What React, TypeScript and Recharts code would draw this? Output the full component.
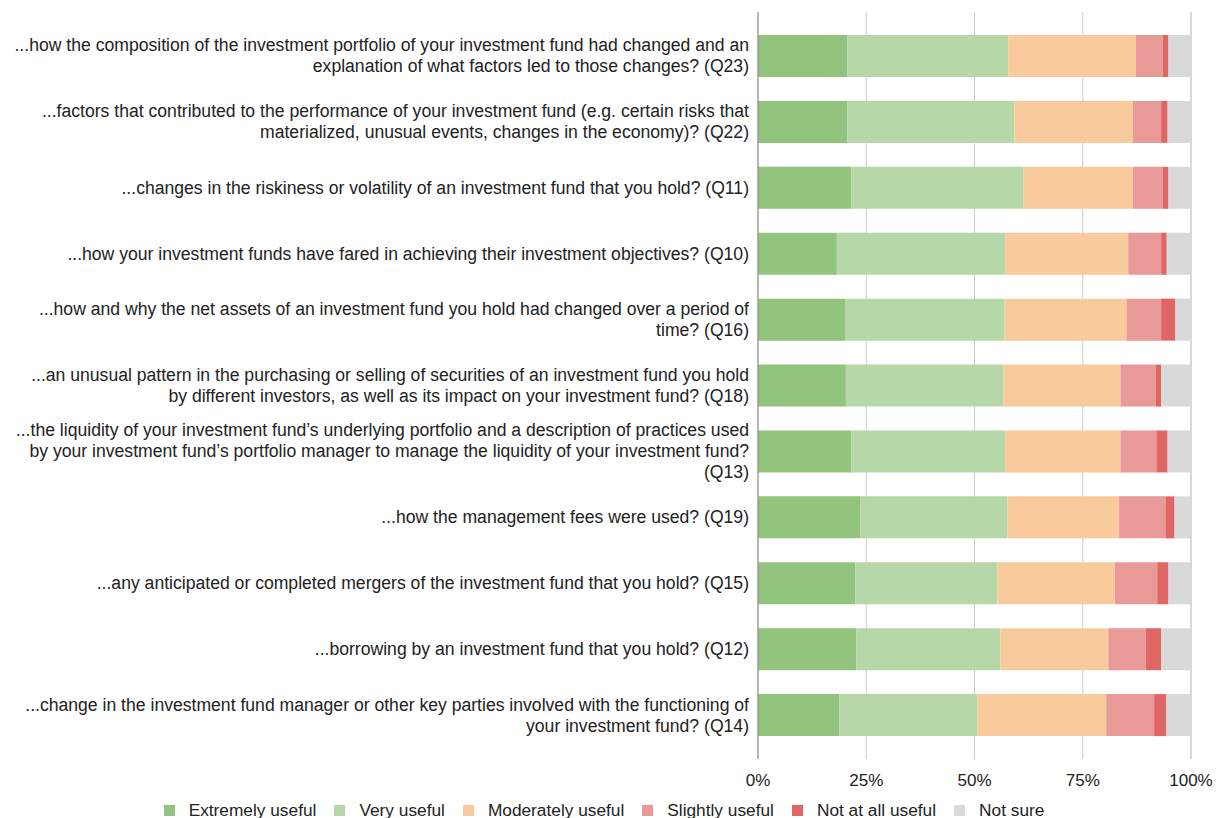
import { BarChart, Bar, XAxis, YAxis, CartesianGrid, Legend } from 'recharts'

const questions = [
  '...how the composition of the investment portfolio of your investment fund had changed and an\nexplanation of what factors led to those changes? (Q23)',
  '...factors that contributed to the performance of your investment fund (e.g. certain risks that\nmaterialized, unusual events, changes in the economy)? (Q22)',
  '...changes in the riskiness or volatility of an investment fund that you hold? (Q11)',
  '...how your investment funds have fared in achieving their investment objectives? (Q10)',
  '...how and why the net assets of an investment fund you hold had changed over a period of\ntime? (Q16)',
  '...an unusual pattern in the purchasing or selling of securities of an investment fund you hold\nby different investors, as well as its impact on your investment fund? (Q18)',
  '...the liquidity of your investment fund\u2019s underlying portfolio and a description of practices used\nby your investment fund\u2019s portfolio manager to manage the liquidity of your investment fund?\n(Q13)',
  '...how the management fees were used? (Q19)',
  '...any anticipated or completed mergers of the investment fund that you hold? (Q15)',
  '...borrowing by an investment fund that you hold? (Q12)',
  '...change in the investment fund manager or other key parties involved with the functioning of\nyour investment fund? (Q14)',
]

const extremelyUseful = [20.6, 20.6, 21.6, 18.2, 20.1, 20.3, 21.6, 23.7, 22.5, 22.7, 18.8]
const veryUseful = [37.2, 38.6, 39.7, 38.9, 36.8, 36.4, 35.5, 33.9, 32.8, 33.3, 31.9]
const moderatelyUseful = [29.5, 27.4, 25.3, 28.4, 28.2, 27.0, 26.6, 25.8, 27.1, 24.9, 29.7]
const slightlyUseful = [6.2, 6.5, 6.9, 7.6, 8.0, 8.1, 8.3, 10.7, 9.8, 8.6, 11.1]
const notAtAllUseful = [1.3, 1.5, 1.3, 1.3, 3.3, 1.3, 2.6, 2.1, 2.6, 3.6, 2.8]
const notSure = [5.2, 5.4, 5.2, 5.6, 3.6, 6.9, 5.4, 3.8, 5.2, 6.9, 5.7]

const xTicks = [0, 25, 50, 75, 100]

const series = [
  { key: 'extremely', name: 'Extremely useful', color: '#93c47d' },
  { key: 'very', name: 'Very useful', color: '#b6d7a8' },
  { key: 'moderately', name: 'Moderately useful', color: '#f9cb9c' },
  { key: 'slightly', name: 'Slightly useful', color: '#ea9999' },
  { key: 'notAtAll', name: 'Not at all useful', color: '#e06666' },
  { key: 'notSure', name: 'Not sure', color: '#d9d9d9' },
]

const data = questions.map((q, i) => ({
  name: q,
  extremely: extremelyUseful[i],
  very: veryUseful[i],
  moderately: moderatelyUseful[i],
  slightly: slightlyUseful[i],
  notAtAll: notAtAllUseful[i],
  notSure: notSure[i],
}))

const FONT = '"Liberation Sans", Arial, sans-serif'

// wrapped, right-aligned question labels
function QuestionTick({ x, y, payload }: any) {
  const lines = String(payload.value).split('\n')
  const lineH = 21
  const start = -((lines.length - 1) * lineH) / 2
  return (
    <text x={x - 1} y={y} textAnchor="end" fontSize={17.6} fontFamily={FONT} fill="#222222">
      {lines.map((l, i) => (
        <tspan key={i} x={x - 1} dy={i === 0 ? start + 6 : lineH}>
          {l}
        </tspan>
      ))}
    </text>
  )
}

function LegendContent() {
  return (
    <div
      style={{
        display: 'flex',
        justifyContent: 'center',
        alignItems: 'center',
        height: 28,
        paddingTop: 12,
        paddingLeft: 17,
        boxSizing: 'border-box',
        fontFamily: FONT,
        fontSize: 17.3,
        color: '#222222',
      }}
    >
      {series.map((s, i) => (
        <div
          key={s.key}
          style={{ display: 'flex', alignItems: 'center', marginRight: i === series.length - 1 ? 0 : 18 }}
        >
          <span style={{ width: 11, height: 11, background: s.color, display: 'inline-block', marginRight: 14 }} />
          <span>{s.name}</span>
        </div>
      ))}
    </div>
  )
}

export default function App() {
  return (
    <div style={{ position: 'absolute', left: 0, top: 0, background: '#fff' }}>
      <BarChart
        width={1216}
        height={818}
        data={data}
        layout="vertical"
        margin={{ top: 12, right: 25, left: 0, bottom: 0 }}
        barSize={42}
      >
        <CartesianGrid horizontal={false} stroke="#cccccc" />
        <XAxis
          type="number"
          domain={[0, 100]}
          ticks={xTicks}
          tickFormatter={(v) => `${v}%`}
          axisLine={false}
          tickLine={false}
          tickMargin={9}
          height={31}
          tick={{ fontSize: 17, fontFamily: FONT, fill: '#222222' }}
          interval={0}
        />
        <YAxis
          type="category"
          dataKey="name"
          width={758}
          tickLine={false}
          axisLine={{ stroke: '#888888' }}
          tick={<QuestionTick />}
          padding={{ top: 11, bottom: 11 }}
          interval={0}
        />
        <Legend verticalAlign="bottom" content={<LegendContent />} />
        {series.map((s) => (
          <Bar key={s.key} dataKey={s.key} name={s.name} stackId="a" fill={s.color} isAnimationActive={false} />
        ))}
      </BarChart>
    </div>
  )
}
